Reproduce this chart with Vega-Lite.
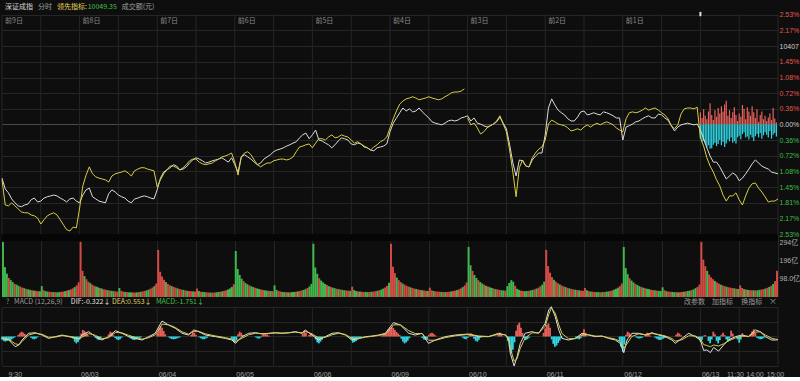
{
"$schema":"https://vega.github.io/schema/vega-lite/v6.json",
"background":"#0e0e0e",
"padding":0,
"spacing":0,
"bounds":"flush",
"config":{"view":{"stroke":null},"axis":{"domain":false,"ticks":false,"labelFont":"Liberation Sans, Noto Sans CJK SC","labelFontSize":7,"labelColor":"#a8a8a8","gridColor":"#262626","labelOverlap":false,"tickCount":100},"text":{"font":"Noto Sans CJK SC, Liberation Sans","fontSize":7,"baseline":"middle","align":"left"}},
"resolve":{"scale":{"x":"independent","y":"independent"}},
"datasets":{
"g":[{"t":0},{"t":12},{"t":24},{"t":36},{"t":48},{"t":60},{"t":72},{"t":84},{"t":96},{"t":108},{"t":120},{"t":132},{"t":144},{"t":156},{"t":168},{"t":180},{"t":192},{"t":204},{"t":216},{"t":228},{"t":240}],
"days":[{"t":0,"lab":"前9日"},{"t":24,"lab":"前8日"},{"t":48,"lab":"前7日"},{"t":72,"lab":"前6日"},{"t":96,"lab":"前5日"},{"t":120,"lab":"前4日"},{"t":144,"lab":"前3日"},{"t":168,"lab":"前2日"},{"t":192,"lab":"前1日"}],
"p":[
{"t":0,"w":-1.24,"yl":-1.28,"s":0},{"t":1,"w":-1.49,"yl":-1.86,"s":0},{"t":2,"w":-1.58,"yl":-1.88,"s":0},{"t":3,"w":-1.72,"yl":-1.81,"s":0},{"t":4,"w":-1.81,"yl":-1.88,"s":0},{"t":5,"w":-1.88,"yl":-1.95,"s":0},{"t":6,"w":-1.90,"yl":-2.02,"s":0},{"t":7,"w":-1.86,"yl":-2.04,"s":0},{"t":8,"w":-1.84,"yl":-2.04,"s":0},{"t":9,"w":-1.74,"yl":-2.09,"s":0},{"t":10,"w":-1.70,"yl":-2.11,"s":0},{"t":11,"w":-1.79,"yl":-2.16,"s":0},{"t":12,"w":-1.77,"yl":-2.30,"s":0},{"t":13,"w":-1.70,"yl":-2.20,"s":0},{"t":14,"w":-1.67,"yl":-2.11,"s":0},{"t":15,"w":-1.65,"yl":-2.07,"s":0},{"t":16,"w":-1.63,"yl":-2.04,"s":0},{"t":17,"w":-1.65,"yl":-2.09,"s":0},{"t":18,"w":-1.70,"yl":-2.20,"s":0},{"t":19,"w":-1.74,"yl":-2.32,"s":0},{"t":20,"w":-1.79,"yl":-2.43,"s":0},{"t":21,"w":-1.72,"yl":-2.46,"s":0},{"t":22,"w":-1.70,"yl":-2.37,"s":0},{"t":23,"w":-1.77,"yl":-2.39,"s":0},
{"t":24,"w":-1.81,"yl":-1.93,"s":0},{"t":25,"w":-1.63,"yl":-1.42,"s":0},{"t":26,"w":-1.51,"yl":-1.17,"s":0},{"t":27,"w":-1.47,"yl":-0.98,"s":0},{"t":28,"w":-1.67,"yl":-1.14,"s":0},{"t":29,"w":-1.72,"yl":-1.21,"s":0},{"t":30,"w":-1.77,"yl":-1.24,"s":0},{"t":31,"w":-1.79,"yl":-1.26,"s":0},{"t":32,"w":-1.81,"yl":-1.28,"s":0},{"t":33,"w":-1.60,"yl":-1.33,"s":0},{"t":34,"w":-1.51,"yl":-1.19,"s":0},{"t":35,"w":-1.56,"yl":-1.14,"s":0},{"t":36,"w":-1.63,"yl":-1.12,"s":0},{"t":37,"w":-1.67,"yl":-1.10,"s":0},{"t":38,"w":-1.70,"yl":-1.07,"s":0},{"t":39,"w":-1.77,"yl":-1.12,"s":0},{"t":40,"w":-1.81,"yl":-1.19,"s":0},{"t":41,"w":-1.72,"yl":-1.07,"s":0},{"t":42,"w":-1.70,"yl":-1.03,"s":0},{"t":43,"w":-1.67,"yl":-1.00,"s":0},{"t":44,"w":-1.65,"yl":-1.00,"s":0},{"t":45,"w":-1.67,"yl":-1.03,"s":0},{"t":46,"w":-1.70,"yl":-1.05,"s":0},{"t":47,"w":-1.72,"yl":-1.07,"s":0},
{"t":48,"w":-1.51,"yl":-1.44,"s":0},{"t":49,"w":-1.24,"yl":-1.28,"s":0},{"t":50,"w":-1.10,"yl":-1.14,"s":0},{"t":51,"w":-1.05,"yl":-1.05,"s":0},{"t":52,"w":-1.00,"yl":-0.96,"s":0},{"t":53,"w":-0.93,"yl":-0.96,"s":0},{"t":54,"w":-0.96,"yl":-1.00,"s":0},{"t":55,"w":-1.05,"yl":-1.05,"s":0},{"t":56,"w":-1.03,"yl":-1.00,"s":0},{"t":57,"w":-0.98,"yl":-0.93,"s":0},{"t":58,"w":-0.89,"yl":-0.84,"s":0},{"t":59,"w":-0.82,"yl":-0.80,"s":0},{"t":60,"w":-0.77,"yl":-0.80,"s":0},{"t":61,"w":-0.80,"yl":-0.87,"s":0},{"t":62,"w":-0.84,"yl":-0.91,"s":0},{"t":63,"w":-0.89,"yl":-0.93,"s":0},{"t":64,"w":-0.87,"yl":-0.91,"s":0},{"t":65,"w":-0.84,"yl":-0.89,"s":0},{"t":66,"w":-0.82,"yl":-0.84,"s":0},{"t":67,"w":-0.80,"yl":-0.80,"s":0},{"t":68,"w":-0.77,"yl":-0.75,"s":0},{"t":69,"w":-0.82,"yl":-0.73,"s":0},{"t":70,"w":-0.87,"yl":-0.70,"s":0},{"t":71,"w":-0.77,"yl":-0.66,"s":0},
{"t":72,"w":-0.93,"yl":-0.87,"s":0},{"t":73,"w":-1.10,"yl":-1.17,"s":0},{"t":74,"w":-0.75,"yl":-0.75,"s":0},{"t":75,"w":-0.70,"yl":-0.66,"s":0},{"t":76,"w":-0.75,"yl":-0.63,"s":0},{"t":77,"w":-0.80,"yl":-0.70,"s":0},{"t":78,"w":-0.87,"yl":-0.82,"s":0},{"t":79,"w":-0.93,"yl":-0.93,"s":0},{"t":80,"w":-0.89,"yl":-0.98,"s":0},{"t":81,"w":-0.80,"yl":-0.93,"s":0},{"t":82,"w":-0.75,"yl":-0.89,"s":0},{"t":83,"w":-0.70,"yl":-0.89,"s":0},{"t":84,"w":-0.63,"yl":-0.84,"s":0},{"t":85,"w":-0.59,"yl":-0.82,"s":0},{"t":86,"w":-0.57,"yl":-0.80,"s":0},{"t":87,"w":-0.54,"yl":-0.80,"s":0},{"t":88,"w":-0.50,"yl":-0.82,"s":0},{"t":89,"w":-0.47,"yl":-0.80,"s":0},{"t":90,"w":-0.43,"yl":-0.75,"s":0},{"t":91,"w":-0.40,"yl":-0.63,"s":0},{"t":92,"w":-0.31,"yl":-0.52,"s":0},{"t":93,"w":-0.24,"yl":-0.50,"s":0},{"t":94,"w":-0.20,"yl":-0.47,"s":0},{"t":95,"w":-0.33,"yl":-0.45,"s":0},
{"t":96,"w":-0.24,"yl":-0.54,"s":0},{"t":97,"w":-0.13,"yl":-0.43,"s":0},{"t":98,"w":-0.36,"yl":-0.33,"s":0},{"t":99,"w":-0.38,"yl":-0.33,"s":0},{"t":100,"w":-0.43,"yl":-0.36,"s":0},{"t":101,"w":-0.47,"yl":-0.29,"s":0},{"t":102,"w":-0.54,"yl":-0.24,"s":0},{"t":103,"w":-0.47,"yl":-0.31,"s":0},{"t":104,"w":-0.38,"yl":-0.29,"s":0},{"t":105,"w":-0.31,"yl":-0.24,"s":0},{"t":106,"w":-0.33,"yl":-0.27,"s":0},{"t":107,"w":-0.36,"yl":-0.29,"s":0},{"t":108,"w":-0.45,"yl":-0.36,"s":0},{"t":109,"w":-0.47,"yl":-0.43,"s":0},{"t":110,"w":-0.43,"yl":-0.40,"s":0},{"t":111,"w":-0.45,"yl":-0.45,"s":0},{"t":112,"w":-0.52,"yl":-0.50,"s":0},{"t":113,"w":-0.54,"yl":-0.54,"s":0},{"t":114,"w":-0.59,"yl":-0.59,"s":0},{"t":115,"w":-0.61,"yl":-0.52,"s":0},{"t":116,"w":-0.54,"yl":-0.47,"s":0},{"t":117,"w":-0.52,"yl":-0.40,"s":0},{"t":118,"w":-0.50,"yl":-0.36,"s":0},{"t":119,"w":-0.45,"yl":-0.29,"s":0},
{"t":120,"w":-0.17,"yl":-0.08,"s":0},{"t":121,"w":0.03,"yl":0.13,"s":0},{"t":122,"w":0.15,"yl":0.31,"s":0},{"t":123,"w":0.27,"yl":0.47,"s":0},{"t":124,"w":0.38,"yl":0.54,"s":0},{"t":125,"w":0.31,"yl":0.59,"s":0},{"t":126,"w":0.36,"yl":0.61,"s":0},{"t":127,"w":0.29,"yl":0.64,"s":0},{"t":128,"w":0.31,"yl":0.61,"s":0},{"t":129,"w":0.38,"yl":0.57,"s":0},{"t":130,"w":0.29,"yl":0.59,"s":0},{"t":131,"w":0.22,"yl":0.61,"s":0},{"t":132,"w":0.15,"yl":0.64,"s":0},{"t":133,"w":0.06,"yl":0.61,"s":0},{"t":134,"w":0.03,"yl":0.59,"s":0},{"t":135,"w":0.01,"yl":0.57,"s":0},{"t":136,"w":-0.01,"yl":0.59,"s":0},{"t":137,"w":0.03,"yl":0.64,"s":0},{"t":138,"w":0.08,"yl":0.68,"s":0},{"t":139,"w":0.10,"yl":0.73,"s":0},{"t":140,"w":0.08,"yl":0.75,"s":0},{"t":141,"w":0.10,"yl":0.75,"s":0},{"t":142,"w":0.15,"yl":0.77,"s":0},{"t":143,"w":0.17,"yl":0.82,"s":0},
{"t":144,"w":0.20,"yl":0.15,"s":1},{"t":145,"w":0.08,"yl":-0.01,"s":1},{"t":146,"w":0.15,"yl":0.03,"s":1},{"t":147,"w":0.03,"yl":-0.08,"s":1},{"t":148,"w":0.01,"yl":-0.22,"s":1},{"t":149,"w":-0.03,"yl":-0.17,"s":1},{"t":150,"w":-0.06,"yl":-0.08,"s":1},{"t":151,"w":-0.03,"yl":-0.03,"s":1},{"t":152,"w":0.01,"yl":0.01,"s":1},{"t":153,"w":0.06,"yl":0.08,"s":1},{"t":154,"w":0.17,"yl":0.20,"s":1},{"t":155,"w":0.03,"yl":0.01,"s":1},{"t":156,"w":-0.10,"yl":-0.17,"s":1},{"t":157,"w":-0.47,"yl":-0.59,"s":1},{"t":158,"w":-0.89,"yl":-1.10,"s":1},{"t":159,"w":-1.19,"yl":-1.67,"s":1},{"t":160,"w":-0.82,"yl":-1.00,"s":1},{"t":161,"w":-0.84,"yl":-0.82,"s":1},{"t":162,"w":-0.96,"yl":-0.96,"s":1},{"t":163,"w":-0.98,"yl":-0.98,"s":1},{"t":164,"w":-0.82,"yl":-0.77,"s":1},{"t":165,"w":-0.73,"yl":-0.66,"s":1},{"t":166,"w":-0.66,"yl":-0.57,"s":1},{"t":167,"w":-0.66,"yl":-0.52,"s":1},
{"t":168,"w":-0.24,"yl":-0.36,"s":1},{"t":169,"w":0.38,"yl":0.01,"s":1},{"t":170,"w":0.59,"yl":0.10,"s":1},{"t":171,"w":0.45,"yl":0.06,"s":1},{"t":172,"w":0.33,"yl":0.01,"s":1},{"t":173,"w":0.27,"yl":-0.01,"s":1},{"t":174,"w":0.22,"yl":-0.03,"s":1},{"t":175,"w":0.13,"yl":-0.08,"s":1},{"t":176,"w":0.08,"yl":-0.15,"s":1},{"t":177,"w":0.08,"yl":-0.13,"s":1},{"t":178,"w":0.17,"yl":-0.10,"s":1},{"t":179,"w":0.29,"yl":-0.13,"s":1},{"t":180,"w":0.31,"yl":-0.06,"s":1},{"t":181,"w":0.22,"yl":-0.01,"s":1},{"t":182,"w":0.24,"yl":-0.06,"s":1},{"t":183,"w":0.27,"yl":-0.01,"s":1},{"t":184,"w":0.24,"yl":0.03,"s":1},{"t":185,"w":0.22,"yl":-0.01,"s":1},{"t":186,"w":0.29,"yl":0.03,"s":1},{"t":187,"w":0.27,"yl":0.06,"s":1},{"t":188,"w":0.24,"yl":0.03,"s":1},{"t":189,"w":0.20,"yl":-0.01,"s":1},{"t":190,"w":0.15,"yl":-0.08,"s":1},{"t":191,"w":0.15,"yl":-0.13,"s":1},
{"t":192,"w":-0.36,"yl":-0.17,"s":1},{"t":193,"w":-0.06,"yl":0.13,"s":1},{"t":194,"w":-0.03,"yl":0.27,"s":1},{"t":195,"w":0.01,"yl":0.29,"s":1},{"t":196,"w":0.06,"yl":0.27,"s":1},{"t":197,"w":0.08,"yl":0.29,"s":1},{"t":198,"w":0.13,"yl":0.33,"s":1},{"t":199,"w":0.17,"yl":0.38,"s":1},{"t":200,"w":0.20,"yl":0.33,"s":1},{"t":201,"w":0.15,"yl":0.36,"s":1},{"t":202,"w":0.15,"yl":0.38,"s":1},{"t":203,"w":0.24,"yl":0.33,"s":1},{"t":204,"w":0.22,"yl":0.27,"s":1},{"t":205,"w":0.15,"yl":0.22,"s":1},{"t":206,"w":0.10,"yl":0.13,"s":1},{"t":207,"w":-0.03,"yl":-0.03,"s":1},{"t":208,"w":-0.15,"yl":-0.10,"s":1},{"t":209,"w":-0.06,"yl":-0.01,"s":1},{"t":210,"w":-0.01,"yl":0.24,"s":1},{"t":211,"w":0.01,"yl":0.36,"s":1},{"t":212,"w":0.03,"yl":0.38,"s":1},{"t":213,"w":0.01,"yl":0.38,"s":1},{"t":214,"w":-0.01,"yl":0.36,"s":1},{"t":215,"w":0.01,"yl":0.40,"s":1},
{"t":216,"w":-0.13,"yl":-0.31,"s":1},{"t":217,"w":-0.33,"yl":-0.50,"s":1},{"t":218,"w":-0.54,"yl":-0.77,"s":1},{"t":219,"w":-0.73,"yl":-0.96,"s":1},{"t":220,"w":-0.87,"yl":-1.10,"s":1},{"t":221,"w":-0.87,"yl":-1.28,"s":1},{"t":222,"w":-0.98,"yl":-1.42,"s":1},{"t":223,"w":-1.12,"yl":-1.63,"s":1},{"t":224,"w":-1.26,"yl":-1.77,"s":1},{"t":225,"w":-1.19,"yl":-1.65,"s":1},{"t":226,"w":-1.12,"yl":-1.65,"s":1},{"t":227,"w":-1.17,"yl":-1.58,"s":1},{"t":228,"w":-1.30,"yl":-1.74,"s":1},{"t":229,"w":-1.24,"yl":-1.86,"s":1},{"t":230,"w":-1.14,"yl":-1.65,"s":1},{"t":231,"w":-1.03,"yl":-1.47,"s":1},{"t":232,"w":-0.91,"yl":-1.37,"s":1},{"t":233,"w":-0.82,"yl":-1.35,"s":1},{"t":234,"w":-0.89,"yl":-1.47,"s":1},{"t":235,"w":-0.96,"yl":-1.56,"s":1},{"t":236,"w":-1.00,"yl":-1.67,"s":1},{"t":237,"w":-1.03,"yl":-1.79,"s":1},{"t":238,"w":-1.10,"yl":-1.77,"s":1},{"t":239,"w":-1.12,"yl":-1.77,"s":1},{"t":240,"w":-1.14,"yl":-1.72,"s":1}
],
"bs":[
{"t":216,"u":0.28,"d":-0.33},{"t":216.5,"u":0.15,"d":-0.40},{"t":217,"u":0.35,"d":-0.38},{"t":217.5,"u":0.20,"d":-0.44},{"t":218,"u":0.12,"d":-0.53},{"t":218.5,"u":0.30,"d":-0.48},{"t":219,"u":0.49,"d":-0.56},{"t":219.5,"u":0.22,"d":-0.55},{"t":220,"u":0.10,"d":-0.47},{"t":220.5,"u":0.33,"d":-0.42},{"t":221,"u":0.18,"d":-0.50},{"t":221.5,"u":0.38,"d":-0.45},{"t":222,"u":0.25,"d":-0.36},{"t":222.5,"u":0.42,"d":-0.48},{"t":223,"u":0.30,"d":-0.40},{"t":223.5,"u":0.46,"d":-0.52},{"t":224,"u":0.55,"d":-0.44},{"t":224.5,"u":0.20,"d":-0.35},{"t":225,"u":0.33,"d":-0.39},{"t":225.5,"u":0.15,"d":-0.30},{"t":226,"u":0.28,"d":-0.42},{"t":226.5,"u":0.40,"d":-0.38},{"t":227,"u":0.22,"d":-0.44},{"t":227.5,"u":0.08,"d":-0.30},{"t":228,"u":0.25,"d":-0.26},{"t":228.5,"u":0.18,"d":-0.34},{"t":229,"u":0.45,"d":-0.22},{"t":229.5,"u":0.36,"d":-0.18},{"t":230,"u":0.12,"d":-0.30},{"t":230.5,"u":0.40,"d":-0.28},{"t":231,"u":0.30,"d":-0.35},{"t":231.5,"u":0.20,"d":-0.24},{"t":232,"u":0.42,"d":-0.30},{"t":232.5,"u":0.28,"d":-0.38},{"t":233,"u":0.15,"d":-0.27},{"t":233.5,"u":0.35,"d":-0.22},{"t":234,"u":0.06,"d":-0.30},{"t":234.5,"u":0.22,"d":-0.20},{"t":235,"u":0.30,"d":-0.33},{"t":235.5,"u":0.12,"d":-0.25},{"t":236,"u":0.20,"d":-0.18},{"t":236.5,"u":0.08,"d":-0.24},{"t":237,"u":0.16,"d":-0.30},{"t":237.5,"u":0.25,"d":-0.15},{"t":238,"u":0.10,"d":-0.33},{"t":238.5,"u":0.38,"d":-0.24},{"t":239,"u":0.14,"d":-0.20},{"t":239.5,"u":0.05,"d":-0.28}
],
"vol":[
{"m":0,"v":294,"r":0},{"m":1,"v":160,"r":0},{"m":2,"v":125,"r":0},{"m":3,"v":102,"r":1},{"m":4,"v":90,"r":0},{"m":5,"v":80,"r":0},{"m":6,"v":70,"r":1},{"m":7,"v":66,"r":0},{"m":8,"v":60,"r":0},{"m":9,"v":55,"r":1},{"m":10,"v":50,"r":1},{"m":11,"v":47,"r":0},{"m":12,"v":43,"r":1},{"m":13,"v":41,"r":0},{"m":14,"v":38,"r":0},{"m":15,"v":36,"r":1},{"m":16,"v":34,"r":0},{"m":17,"v":33,"r":1},{"m":18,"v":31,"r":1},{"m":19,"v":31,"r":0},{"m":20,"v":58,"r":0},{"m":21,"v":36,"r":1},{"m":22,"v":31,"r":0},{"m":23,"v":29,"r":0},{"m":24,"v":28,"r":1},{"m":25,"v":27,"r":1},{"m":26,"v":26,"r":0},{"m":27,"v":26,"r":1},{"m":28,"v":25,"r":0},{"m":29,"v":26,"r":0},{"m":30,"v":28,"r":1},{"m":31,"v":29,"r":1},{"m":32,"v":31,"r":0},{"m":33,"v":34,"r":1},{"m":34,"v":37,"r":0},{"m":35,"v":41,"r":1},{"m":36,"v":46,"r":1},{"m":37,"v":53,"r":0},{"m":38,"v":62,"r":1},{"m":39,"v":78,"r":1},
{"m":40,"v":294,"r":1},{"m":41,"v":140,"r":1},{"m":42,"v":112,"r":0},{"m":43,"v":95,"r":1},{"m":44,"v":82,"r":1},{"m":45,"v":74,"r":0},{"m":46,"v":66,"r":1},{"m":47,"v":60,"r":1},{"m":48,"v":56,"r":0},{"m":49,"v":52,"r":0},{"m":50,"v":48,"r":1},{"m":51,"v":45,"r":0},{"m":52,"v":41,"r":1},{"m":53,"v":39,"r":1},{"m":54,"v":36,"r":0},{"m":55,"v":35,"r":1},{"m":56,"v":33,"r":0},{"m":57,"v":31,"r":0},{"m":58,"v":30,"r":1},{"m":59,"v":29,"r":1},{"m":60,"v":48,"r":0},{"m":61,"v":33,"r":1},{"m":62,"v":29,"r":1},{"m":63,"v":27,"r":0},{"m":64,"v":26,"r":1},{"m":65,"v":25,"r":0},{"m":66,"v":25,"r":0},{"m":67,"v":24,"r":1},{"m":68,"v":24,"r":1},{"m":69,"v":25,"r":0},{"m":70,"v":26,"r":1},{"m":71,"v":28,"r":0},{"m":72,"v":30,"r":1},{"m":73,"v":32,"r":1},{"m":74,"v":35,"r":0},{"m":75,"v":39,"r":0},{"m":76,"v":44,"r":1},{"m":77,"v":50,"r":1},{"m":78,"v":58,"r":0},{"m":79,"v":72,"r":1},
{"m":80,"v":252,"r":1},{"m":81,"v":135,"r":1},{"m":82,"v":110,"r":1},{"m":83,"v":92,"r":1},{"m":84,"v":80,"r":0},{"m":85,"v":70,"r":1},{"m":86,"v":63,"r":1},{"m":87,"v":58,"r":0},{"m":88,"v":54,"r":1},{"m":89,"v":50,"r":1},{"m":90,"v":46,"r":0},{"m":91,"v":43,"r":1},{"m":92,"v":40,"r":1},{"m":93,"v":38,"r":0},{"m":94,"v":35,"r":1},{"m":95,"v":33,"r":0},{"m":96,"v":32,"r":1},{"m":97,"v":31,"r":1},{"m":98,"v":30,"r":0},{"m":99,"v":29,"r":1},{"m":100,"v":45,"r":1},{"m":101,"v":32,"r":0},{"m":102,"v":28,"r":1},{"m":103,"v":27,"r":0},{"m":104,"v":26,"r":0},{"m":105,"v":25,"r":1},{"m":106,"v":24,"r":1},{"m":107,"v":24,"r":0},{"m":108,"v":23,"r":1},{"m":109,"v":24,"r":1},{"m":110,"v":25,"r":0},{"m":111,"v":27,"r":0},{"m":112,"v":28,"r":1},{"m":113,"v":30,"r":0},{"m":114,"v":33,"r":1},{"m":115,"v":36,"r":1},{"m":116,"v":40,"r":0},{"m":117,"v":46,"r":0},{"m":118,"v":54,"r":0},{"m":119,"v":68,"r":1},
{"m":120,"v":246,"r":0},{"m":121,"v":150,"r":0},{"m":122,"v":118,"r":0},{"m":123,"v":98,"r":0},{"m":124,"v":85,"r":1},{"m":125,"v":75,"r":0},{"m":126,"v":68,"r":0},{"m":127,"v":62,"r":1},{"m":128,"v":57,"r":0},{"m":129,"v":53,"r":0},{"m":130,"v":49,"r":1},{"m":131,"v":46,"r":0},{"m":132,"v":43,"r":0},{"m":133,"v":40,"r":1},{"m":134,"v":38,"r":1},{"m":135,"v":36,"r":0},{"m":136,"v":34,"r":0},{"m":137,"v":33,"r":1},{"m":138,"v":32,"r":0},{"m":139,"v":31,"r":1},{"m":140,"v":62,"r":0},{"m":141,"v":38,"r":0},{"m":142,"v":32,"r":1},{"m":143,"v":29,"r":1},{"m":144,"v":27,"r":0},{"m":145,"v":26,"r":0},{"m":146,"v":26,"r":1},{"m":147,"v":25,"r":0},{"m":148,"v":25,"r":1},{"m":149,"v":26,"r":0},{"m":150,"v":27,"r":0},{"m":151,"v":28,"r":1},{"m":152,"v":30,"r":0},{"m":153,"v":32,"r":1},{"m":154,"v":35,"r":1},{"m":155,"v":38,"r":0},{"m":156,"v":42,"r":0},{"m":157,"v":48,"r":1},{"m":158,"v":56,"r":0},{"m":159,"v":70,"r":0},
{"m":160,"v":285,"r":0},{"m":161,"v":158,"r":0},{"m":162,"v":124,"r":0},{"m":163,"v":100,"r":1},{"m":164,"v":88,"r":0},{"m":165,"v":78,"r":0},{"m":166,"v":70,"r":0},{"m":167,"v":64,"r":1},{"m":168,"v":58,"r":0},{"m":169,"v":54,"r":1},{"m":170,"v":50,"r":0},{"m":171,"v":47,"r":0},{"m":172,"v":44,"r":1},{"m":173,"v":42,"r":0},{"m":174,"v":40,"r":1},{"m":175,"v":38,"r":0},{"m":176,"v":36,"r":0},{"m":177,"v":35,"r":1},{"m":178,"v":34,"r":1},{"m":179,"v":33,"r":0},{"m":180,"v":55,"r":1},{"m":181,"v":37,"r":0},{"m":182,"v":32,"r":0},{"m":183,"v":30,"r":1},{"m":184,"v":29,"r":0},{"m":185,"v":28,"r":1},{"m":186,"v":27,"r":1},{"m":187,"v":27,"r":0},{"m":188,"v":26,"r":0},{"m":189,"v":27,"r":1},{"m":190,"v":28,"r":0},{"m":191,"v":29,"r":1},{"m":192,"v":31,"r":1},{"m":193,"v":33,"r":0},{"m":194,"v":36,"r":1},{"m":195,"v":40,"r":0},{"m":196,"v":45,"r":0},{"m":197,"v":51,"r":1},{"m":198,"v":60,"r":1},{"m":199,"v":76,"r":0},
{"m":200,"v":285,"r":1},{"m":201,"v":162,"r":1},{"m":202,"v":128,"r":1},{"m":203,"v":104,"r":0},{"m":204,"v":90,"r":1},{"m":205,"v":80,"r":1},{"m":206,"v":72,"r":0},{"m":207,"v":66,"r":1},{"m":208,"v":60,"r":1},{"m":209,"v":56,"r":1},{"m":210,"v":52,"r":0},{"m":211,"v":48,"r":1},{"m":212,"v":45,"r":1},{"m":213,"v":43,"r":0},{"m":214,"v":40,"r":1},{"m":215,"v":38,"r":1},{"m":216,"v":36,"r":0},{"m":217,"v":35,"r":1},{"m":218,"v":33,"r":1},{"m":219,"v":32,"r":0},{"m":220,"v":50,"r":1},{"m":221,"v":36,"r":1},{"m":222,"v":32,"r":0},{"m":223,"v":30,"r":1},{"m":224,"v":29,"r":1},{"m":225,"v":28,"r":1},{"m":226,"v":27,"r":0},{"m":227,"v":27,"r":1},{"m":228,"v":26,"r":0},{"m":229,"v":27,"r":1},{"m":230,"v":28,"r":1},{"m":231,"v":30,"r":0},{"m":232,"v":32,"r":1},{"m":233,"v":34,"r":1},{"m":234,"v":37,"r":0},{"m":235,"v":41,"r":1},{"m":236,"v":46,"r":1},{"m":237,"v":53,"r":0},{"m":238,"v":62,"r":1},{"m":239,"v":78,"r":1},
{"m":240,"v":268,"r":0},{"m":241,"v":170,"r":0},{"m":242,"v":140,"r":1},{"m":243,"v":118,"r":0},{"m":244,"v":102,"r":0},{"m":245,"v":90,"r":1},{"m":246,"v":80,"r":0},{"m":247,"v":72,"r":0},{"m":248,"v":66,"r":1},{"m":249,"v":60,"r":0},{"m":250,"v":56,"r":1},{"m":251,"v":52,"r":0},{"m":252,"v":48,"r":0},{"m":253,"v":45,"r":1},{"m":254,"v":42,"r":0},{"m":255,"v":40,"r":1},{"m":256,"v":38,"r":1},{"m":257,"v":36,"r":0},{"m":258,"v":35,"r":0},{"m":259,"v":34,"r":1},{"m":260,"v":58,"r":0},{"m":261,"v":75,"r":0},{"m":262,"v":90,"r":0},{"m":263,"v":82,"r":0},{"m":264,"v":60,"r":1},{"m":265,"v":44,"r":0},{"m":266,"v":38,"r":0},{"m":267,"v":34,"r":1},{"m":268,"v":32,"r":1},{"m":269,"v":31,"r":0},{"m":270,"v":32,"r":0},{"m":271,"v":33,"r":1},{"m":272,"v":35,"r":0},{"m":273,"v":38,"r":0},{"m":274,"v":41,"r":1},{"m":275,"v":45,"r":0},{"m":276,"v":50,"r":1},{"m":277,"v":57,"r":1},{"m":278,"v":66,"r":0},{"m":279,"v":82,"r":0},
{"m":280,"v":252,"r":1},{"m":281,"v":165,"r":1},{"m":282,"v":130,"r":1},{"m":283,"v":106,"r":1},{"m":284,"v":92,"r":0},{"m":285,"v":82,"r":1},{"m":286,"v":74,"r":1},{"m":287,"v":67,"r":0},{"m":288,"v":61,"r":1},{"m":289,"v":57,"r":1},{"m":290,"v":53,"r":0},{"m":291,"v":49,"r":1},{"m":292,"v":46,"r":0},{"m":293,"v":43,"r":1},{"m":294,"v":41,"r":1},{"m":295,"v":39,"r":0},{"m":296,"v":37,"r":1},{"m":297,"v":36,"r":0},{"m":298,"v":34,"r":1},{"m":299,"v":33,"r":1},{"m":300,"v":48,"r":1},{"m":301,"v":36,"r":0},{"m":302,"v":31,"r":1},{"m":303,"v":29,"r":0},{"m":304,"v":28,"r":1},{"m":305,"v":27,"r":1},{"m":306,"v":26,"r":0},{"m":307,"v":26,"r":0},{"m":308,"v":25,"r":1},{"m":309,"v":26,"r":0},{"m":310,"v":27,"r":1},{"m":311,"v":28,"r":0},{"m":312,"v":30,"r":0},{"m":313,"v":32,"r":1},{"m":314,"v":35,"r":1},{"m":315,"v":39,"r":0},{"m":316,"v":44,"r":0},{"m":317,"v":50,"r":0},{"m":318,"v":58,"r":1},{"m":319,"v":72,"r":1},
{"m":320,"v":268,"r":0},{"m":321,"v":155,"r":0},{"m":322,"v":122,"r":0},{"m":323,"v":100,"r":1},{"m":324,"v":88,"r":0},{"m":325,"v":78,"r":0},{"m":326,"v":70,"r":1},{"m":327,"v":64,"r":0},{"m":328,"v":58,"r":0},{"m":329,"v":54,"r":1},{"m":330,"v":50,"r":0},{"m":331,"v":47,"r":1},{"m":332,"v":44,"r":0},{"m":333,"v":42,"r":0},{"m":334,"v":39,"r":1},{"m":335,"v":37,"r":1},{"m":336,"v":36,"r":0},{"m":337,"v":34,"r":1},{"m":338,"v":33,"r":0},{"m":339,"v":32,"r":0},{"m":340,"v":52,"r":0},{"m":341,"v":36,"r":1},{"m":342,"v":31,"r":0},{"m":343,"v":29,"r":1},{"m":344,"v":28,"r":1},{"m":345,"v":27,"r":0},{"m":346,"v":26,"r":0},{"m":347,"v":26,"r":1},{"m":348,"v":25,"r":0},{"m":349,"v":26,"r":1},{"m":350,"v":27,"r":1},{"m":351,"v":28,"r":0},{"m":352,"v":30,"r":1},{"m":353,"v":32,"r":0},{"m":354,"v":34,"r":0},{"m":355,"v":37,"r":1},{"m":356,"v":41,"r":0},{"m":357,"v":47,"r":0},{"m":358,"v":54,"r":1},{"m":359,"v":66,"r":1},
{"m":360,"v":294,"r":1},{"m":361,"v":200,"r":1},{"m":362,"v":165,"r":1},{"m":363,"v":140,"r":0},{"m":364,"v":120,"r":1},{"m":365,"v":105,"r":1},{"m":366,"v":95,"r":1},{"m":367,"v":86,"r":0},{"m":368,"v":78,"r":1},{"m":369,"v":72,"r":1},{"m":370,"v":66,"r":0},{"m":371,"v":62,"r":1},{"m":372,"v":58,"r":1},{"m":373,"v":55,"r":0},{"m":374,"v":52,"r":1},{"m":375,"v":50,"r":1},{"m":376,"v":48,"r":1},{"m":377,"v":46,"r":0},{"m":378,"v":44,"r":1},{"m":379,"v":43,"r":0},{"m":380,"v":62,"r":1},{"m":381,"v":48,"r":1},{"m":382,"v":42,"r":0},{"m":383,"v":40,"r":1},{"m":384,"v":38,"r":0},{"m":385,"v":37,"r":1},{"m":386,"v":36,"r":1},{"m":387,"v":36,"r":0},{"m":388,"v":35,"r":1},{"m":389,"v":36,"r":0},{"m":390,"v":38,"r":0},{"m":391,"v":40,"r":1},{"m":392,"v":42,"r":1},{"m":393,"v":45,"r":0},{"m":394,"v":49,"r":1},{"m":395,"v":54,"r":0},{"m":396,"v":60,"r":1},{"m":397,"v":70,"r":0},{"m":398,"v":85,"r":1},{"m":399,"v":140,"r":1}
],
"md":[
{"t":0,"a":-0.13,"b":-0.10},{"t":2.1,"a":-0.24,"b":-0.18},{"t":4.1,"a":-0.70,"b":-0.50},{"t":5.2,"a":-0.58,"b":-0.55},{"t":6.2,"a":-0.24,"b":-0.35},{"t":8.2,"a":0.22,"b":0.10},{"t":10.3,"a":0.26,"b":0.22},{"t":12.4,"a":0.10,"b":0.15},{"t":14.4,"a":-0.13,"b":-0.05},{"t":16.5,"a":-0.01,"b":-0.04},{"t":18.6,"a":0.10,"b":0.06},{"t":20.6,"a":-0.01,"b":0.02},{"t":22.2,"a":-0.08,"b":-0.05},{"t":23.9,"a":-0.19,"b":-0.14},{"t":24.7,"a":0.10,"b":-0.05},{"t":26.8,"a":0.33,"b":0.20},{"t":28.9,"a":-0.01,"b":0.08},{"t":30.9,"a":-0.24,"b":-0.15},{"t":33.0,"a":-0.01,"b":-0.08},{"t":35.1,"a":0.40,"b":0.28},{"t":37.1,"a":0.22,"b":0.25},{"t":39.2,"a":-0.01,"b":0.08},{"t":41.2,"a":-0.13,"b":-0.06},{"t":43.3,"a":-0.24,"b":-0.18},{"t":45.4,"a":-0.01,"b":-0.08},{"t":47.4,"a":0.22,"b":0.12},{"t":48.5,"a":0.67,"b":0.45},{"t":49.5,"a":1.06,"b":0.85},{"t":51.5,"a":0.79,"b":0.80},{"t":53.6,"a":0.56,"b":0.62},{"t":55.7,"a":0.22,"b":0.32},{"t":57.7,"a":0.10,"b":0.16},{"t":59.3,"a":0.45,"b":0.35},{"t":60.8,"a":0.33,"b":0.36},{"t":62.9,"a":0.10,"b":0.18},{"t":66.0,"a":-0.01,"b":0.04},{"t":69.1,"a":-0.13,"b":-0.08},{"t":71.1,"a":-0.24,"b":-0.18},{"t":72.2,"a":-0.47,"b":-0.35},{"t":74.2,"a":-0.01,"b":-0.12},{"t":76.3,"a":0.22,"b":0.12},{"t":78.4,"a":0.26,"b":0.22},{"t":80.4,"a":0.17,"b":0.20},{"t":82.5,"a":0.22,"b":0.21},{"t":84.5,"a":0.26,"b":0.24},{"t":86.6,"a":0.22,"b":0.23},{"t":88.7,"a":0.26,"b":0.25},{"t":90.7,"a":0.33,"b":0.30},{"t":92.8,"a":0.22,"b":0.25},{"t":93.8,"a":0.45,"b":0.35},{"t":95.9,"a":0.10,"b":0.18},{"t":97.9,"a":-0.24,"b":-0.10},{"t":100.0,"a":-0.01,"b":-0.06},{"t":102.1,"a":0.22,"b":0.12},{"t":104.1,"a":0.26,"b":0.22},{"t":106.2,"a":0.10,"b":0.14},{"t":108.2,"a":-0.24,"b":-0.12},{"t":110.3,"a":-0.13,"b":-0.14},{"t":112.4,"a":-0.01,"b":-0.05},{"t":114.4,"a":0.03,"b":0.01},{"t":116.5,"a":0.10,"b":0.07},{"t":118.6,"a":0.22,"b":0.17},{"t":120.1,"a":0.67,"b":0.50},{"t":121.1,"a":0.95,"b":0.80},{"t":123.2,"a":0.79,"b":0.80},{"t":125.8,"a":0.22,"b":0.40},{"t":127.8,"a":0.10,"b":0.20},{"t":129.9,"a":0.22,"b":0.20},{"t":131.9,"a":-0.47,"b":-0.25},{"t":134.0,"a":-0.24,"b":-0.26},{"t":137.1,"a":-0.01,"b":-0.08},{"t":140.2,"a":0.10,"b":0.05},{"t":144.3,"a":0.17,"b":0.14},{"t":147.4,"a":-0.01,"b":0.04},{"t":150.5,"a":-0.01,"b":0.00},{"t":153.6,"a":0.22,"b":0.15},{"t":155.7,"a":0.10,"b":0.12},{"t":156.7,"a":-0.24,"b":-0.10},{"t":157.2,"a":-1.15,"b":-0.80},{"t":158.4,"a":-2.02,"b":-1.70},{"t":159.3,"a":-1.38,"b":-1.50},{"t":160.3,"a":-0.47,"b":-0.80},{"t":161.8,"a":0.22,"b":-0.10},{"t":163.9,"a":0.33,"b":0.25},{"t":166.0,"a":0.22,"b":0.25},{"t":168.0,"a":0.90,"b":0.70},{"t":169.1,"a":1.82,"b":1.50},{"t":169.9,"a":2.04,"b":1.95},{"t":171.1,"a":1.36,"b":1.60},{"t":172.2,"a":0.45,"b":0.80},{"t":173.2,"a":-0.13,"b":0.20},{"t":175.2,"a":-0.24,"b":-0.15},{"t":177.3,"a":-0.13,"b":-0.15},{"t":179.4,"a":0.22,"b":0.10},{"t":181.4,"a":0.10,"b":0.12},{"t":183.5,"a":-0.01,"b":0.03},{"t":185.6,"a":0.03,"b":0.02},{"t":187.6,"a":-0.13,"b":-0.08},{"t":189.7,"a":-0.24,"b":-0.18},{"t":191.2,"a":-0.47,"b":-0.35},{"t":192.3,"a":-1.11,"b":-0.80},{"t":193.3,"a":-0.24,"b":-0.50},{"t":194.8,"a":0.22,"b":0.00},{"t":196.9,"a":0.22,"b":0.18},{"t":199.0,"a":0.10,"b":0.13},{"t":201.0,"a":0.26,"b":0.20},{"t":203.1,"a":0.10,"b":0.14},{"t":205.1,"a":-0.01,"b":0.04},{"t":207.2,"a":-0.24,"b":-0.14},{"t":208.2,"a":-0.47,"b":-0.32},{"t":210.3,"a":-0.13,"b":-0.22},{"t":212.4,"a":0.22,"b":0.05},{"t":214.4,"a":-0.01,"b":0.04},{"t":216.0,"a":-0.24,"b":-0.15},{"t":217.0,"a":-0.95,"b":-0.55},{"t":218.0,"a":-0.92,"b":-0.62},{"t":219.1,"a":-1.10,"b":-0.70},{"t":220.1,"a":-0.75,"b":-0.58},{"t":221.6,"a":-1.00,"b":-0.65},{"t":223.2,"a":-0.58,"b":-0.50},{"t":224.7,"a":-0.24,"b":-0.30},{"t":226.8,"a":-0.01,"b":-0.10},{"t":228.9,"a":0.10,"b":0.03},{"t":230.9,"a":-0.01,"b":0.01},{"t":233.0,"a":0.45,"b":0.30},{"t":234.5,"a":0.33,"b":0.32},{"t":236.1,"a":-0.01,"b":0.10},{"t":238.1,"a":-0.24,"b":-0.12},{"t":239.2,"a":-0.24,"b":-0.18},{"t":240,"a":-0.22,"b":-0.20}
],
"mh":[
{"t":0,"h":-0.2},{"t":0.5,"h":-0.3},{"t":1,"h":-0.35},{"t":1.5,"h":-0.3},{"t":2,"h":-0.25},{"t":2.5,"h":-0.3},{"t":3,"h":-0.2},{"t":3.5,"h":-0.12},{"t":4,"h":-0.05},
{"t":5,"h":0.1},{"t":5.5,"h":0.22},{"t":6,"h":0.33},{"t":6.5,"h":0.28},{"t":7,"h":0.18},{"t":7.5,"h":0.08},
{"t":9,"h":-0.08},{"t":9.5,"h":-0.16},{"t":10,"h":-0.19},{"t":10.5,"h":-0.14},{"t":11,"h":-0.06},
{"t":22,"h":-0.15},{"t":22.5,"h":-0.35},{"t":23,"h":-0.47},{"t":23.5,"h":-0.38},{"t":24,"h":-0.2},
{"t":24.5,"h":0.2},{"t":25,"h":0.45},{"t":25.5,"h":0.38},{"t":26,"h":0.25},{"t":26.5,"h":0.12},
{"t":29,"h":-0.1},{"t":29.5,"h":-0.2},{"t":30,"h":-0.24},{"t":30.5,"h":-0.15},
{"t":33,"h":0.15},{"t":33.5,"h":0.33},{"t":34,"h":0.25},{"t":34.5,"h":0.08},
{"t":35,"h":-0.1},{"t":35.5,"h":-0.2},{"t":36,"h":-0.24},{"t":36.5,"h":-0.18},{"t":37,"h":-0.08},
{"t":39.5,"h":-0.08},{"t":40,"h":-0.16},{"t":40.5,"h":-0.22},{"t":41,"h":-0.24},{"t":41.5,"h":-0.2},{"t":42,"h":-0.15},{"t":42.5,"h":-0.1},{"t":43,"h":-0.05},
{"t":48,"h":0.25},{"t":48.5,"h":0.55},{"t":49,"h":0.72},{"t":49.5,"h":0.6},{"t":50,"h":0.38},{"t":50.5,"h":0.15},
{"t":51.5,"h":-0.05},{"t":52,"h":-0.12},{"t":52.5,"h":-0.17},{"t":53,"h":-0.19},{"t":53.5,"h":-0.17},{"t":54,"h":-0.14},{"t":54.5,"h":-0.1},{"t":55,"h":-0.06},
{"t":58.5,"h":0.12},{"t":59,"h":0.33},{"t":59.5,"h":0.25},{"t":60,"h":0.1},
{"t":61,"h":-0.06},{"t":61.5,"h":-0.12},{"t":62,"h":-0.18},{"t":62.5,"h":-0.19},{"t":63,"h":-0.14},{"t":63.5,"h":-0.08},
{"t":71,"h":-0.15},{"t":71.5,"h":-0.3},{"t":72,"h":-0.42},{"t":72.5,"h":-0.25},
{"t":73,"h":0.15},{"t":73.5,"h":0.33},{"t":74,"h":0.25},{"t":74.5,"h":0.1},
{"t":78.5,"h":-0.06},{"t":79,"h":-0.12},{"t":79.5,"h":-0.13},{"t":80,"h":-0.07},
{"t":80.5,"h":0.08},{"t":81,"h":0.16},{"t":81.5,"h":0.22},{"t":82,"h":0.15},{"t":82.5,"h":0.06},
{"t":93,"h":0.2},{"t":93.5,"h":0.4},{"t":94,"h":0.25},
{"t":95,"h":0.12},{"t":95.5,"h":0.22},{"t":96,"h":0.1},
{"t":97,"h":-0.2},{"t":97.5,"h":-0.4},{"t":98,"h":-0.47},{"t":98.5,"h":-0.35},{"t":99,"h":-0.22},{"t":99.5,"h":-0.1},
{"t":108,"h":-0.2},{"t":108.5,"h":-0.42},{"t":109,"h":-0.38},{"t":109.5,"h":-0.3},{"t":110,"h":-0.22},{"t":110.5,"h":-0.14},{"t":111,"h":-0.06},
{"t":117.5,"h":0.06},{"t":118,"h":0.12},{"t":118.5,"h":0.2},{"t":119,"h":0.32},{"t":119.5,"h":0.48},{"t":120,"h":0.6},{"t":120.5,"h":0.67},{"t":121,"h":0.58},{"t":121.5,"h":0.45},{"t":122,"h":0.32},{"t":122.5,"h":0.2},{"t":123,"h":0.1},
{"t":123.5,"h":-0.15},{"t":124,"h":-0.35},{"t":124.5,"h":-0.47},{"t":125,"h":-0.4},{"t":125.5,"h":-0.28},{"t":126,"h":-0.12},
{"t":130,"h":-0.1},{"t":130.5,"h":-0.2},{"t":131,"h":-0.24},{"t":131.5,"h":-0.15},
{"t":132,"h":0.1},{"t":132.5,"h":0.22},{"t":133,"h":0.26},{"t":133.5,"h":0.18},{"t":134,"h":0.08},
{"t":142.5,"h":-0.08},{"t":143,"h":-0.16},{"t":143.5,"h":-0.19},{"t":144,"h":-0.1},
{"t":144.5,"h":0.12},{"t":145,"h":0.22},{"t":145.5,"h":0.14},
{"t":146,"h":-0.15},{"t":146.5,"h":-0.3},{"t":147,"h":-0.35},{"t":147.5,"h":-0.22},{"t":148,"h":-0.08},
{"t":153.5,"h":0.12},{"t":154,"h":0.26},{"t":154.5,"h":0.15},
{"t":156.5,"h":-0.3},{"t":157,"h":-0.7},{"t":157.5,"h":-1.15},{"t":158,"h":-0.9},{"t":158.5,"h":-0.4},
{"t":159,"h":0.4},{"t":159.5,"h":0.8},{"t":160,"h":0.95},{"t":160.5,"h":0.6},{"t":161,"h":0.25},
{"t":161.5,"h":-0.12},{"t":162,"h":-0.24},{"t":162.5,"h":-0.18},{"t":163,"h":-0.08},
{"t":167.5,"h":0.25},{"t":168,"h":0.55},{"t":168.5,"h":0.8},{"t":169,"h":0.9},{"t":169.5,"h":0.6},
{"t":170,"h":-0.2},{"t":170.5,"h":-0.5},{"t":171,"h":-0.7},{"t":171.5,"h":-0.62},{"t":172,"h":-0.45},{"t":172.5,"h":-0.28},{"t":173,"h":-0.12},
{"t":177.5,"h":-0.08},{"t":178,"h":-0.15},{"t":178.5,"h":-0.19},{"t":179,"h":-0.12},
{"t":179.5,"h":0.2},{"t":180,"h":0.49},{"t":180.5,"h":0.25},
{"t":191,"h":-0.3},{"t":191.5,"h":-0.7},{"t":192,"h":-1.04},{"t":192.5,"h":-0.55},
{"t":193,"h":0.12},{"t":193.5,"h":0.33},{"t":194,"h":0.25},{"t":194.5,"h":0.1},
{"t":196,"h":-0.05},{"t":196.5,"h":-0.1},{"t":197,"h":-0.13},{"t":197.5,"h":-0.12},{"t":198,"h":-0.08},
{"t":199,"h":0.1},{"t":199.5,"h":0.26},{"t":200,"h":0.18},{"t":200.5,"h":0.06},
{"t":202,"h":-0.08},{"t":202.5,"h":-0.15},{"t":203,"h":-0.22},{"t":203.5,"h":-0.24},{"t":204,"h":-0.2},{"t":204.5,"h":-0.15},{"t":205,"h":-0.1},{"t":205.5,"h":-0.05},
{"t":208.5,"h":0.12},{"t":209,"h":0.26},{"t":209.5,"h":0.2},{"t":210,"h":0.08},
{"t":215.5,"h":-0.15},{"t":216,"h":-0.35},{"t":216.5,"h":-0.22},
{"t":217,"h":0.06},{"t":217.5,"h":0.1},
{"t":218.5,"h":-0.3},{"t":219,"h":-0.47},{"t":219.5,"h":-0.2},
{"t":220,"h":0.33},{"t":220.5,"h":0.15},
{"t":221,"h":-0.3},{"t":221.5,"h":-0.47},{"t":222,"h":-0.25},
{"t":222.5,"h":0.12},{"t":223,"h":0.26},{"t":223.5,"h":0.1},
{"t":224,"h":-0.2},{"t":224.5,"h":-0.35},{"t":225,"h":-0.15},
{"t":225.5,"h":0.4},{"t":226,"h":0.2},
{"t":227.5,"h":-0.2},{"t":228,"h":-0.42},{"t":228.5,"h":-0.2},
{"t":229,"h":0.22},{"t":229.5,"h":0.1},
{"t":231.5,"h":0.15},{"t":232,"h":0.35},{"t":232.5,"h":0.49},{"t":233,"h":0.25},
{"t":233.5,"h":-0.08},{"t":234,"h":-0.15},{"t":234.5,"h":-0.19},{"t":235,"h":-0.17},{"t":235.5,"h":-0.12},{"t":236,"h":-0.06}
]
},
"vconcat":[
{"width":776,"height":234,"layer":[
 {"data":{"name":"g"},"mark":{"type":"rule","color":"#262626"},
  "encoding":{"x":{"field":"t","type":"quantitative","scale":{"domain":[0,240],"nice":false,"zero":false},"axis":null},
   "y":{"datum":-2.53,"type":"quantitative","title":null,"scale":{"domain":[-2.53,2.874],"nice":false,"zero":false},
    "axis":{"orient":"right","title":null,"tickCount":100,"values":[2.53,2.17,1.81,1.45,1.08,0.72,0.36,0,-0.36,-0.72,-1.08,-1.45,-1.81,-2.17,-2.53],"grid":true,"labelOverlap":false,"gridColor":{"condition":{"test":"datum.value === 0","value":"#4a4a4a"},"value":"#262626"},"labelPadding":1,"labelExpr":"datum.value === 1.81 ? '10407' : format(abs(datum.value), '.2f') + '%'","labelColor":{"condition":[{"test":"datum.value === 1.81","value":"#d0d0d0"},{"test":"datum.value > 0","value":"#e5574f"},{"test":"datum.value < 0","value":"#3fbf46"}],"value":"#cfcfcf"}}},
   "y2":{"datum":2.53}}},
 {"data":{"name":"days"},"mark":{"type":"text","color":"#8a8a8a","dx":3,"fontSize":7},
  "encoding":{"x":{"field":"t","type":"quantitative","scale":{"domain":[0,240],"nice":false,"zero":false},"axis":null},"y":{"datum":2.40,"type":"quantitative","title":null,"scale":{"domain":[-2.53,2.874],"nice":false,"zero":false}},"text":{"field":"lab"}}},
 {"data":{"values":[{}]},"mark":{"type":"text","color":"#d4d4d4","text":"深证成指"},
  "encoding":{"x":{"datum":0.93,"type":"quantitative","scale":{"domain":[0,240],"nice":false,"zero":false},"axis":null},"y":{"datum":2.712,"type":"quantitative","title":null,"scale":{"domain":[-2.53,2.874],"nice":false,"zero":false}}}},
 {"data":{"values":[{}]},"mark":{"type":"text","color":"#a0a0a0","text":"分时"},
  "encoding":{"x":{"datum":11.1,"type":"quantitative","scale":{"domain":[0,240],"nice":false,"zero":false},"axis":null},"y":{"datum":2.712,"type":"quantitative","title":null,"scale":{"domain":[-2.53,2.874],"nice":false,"zero":false}}}},
 {"data":{"values":[{}]},"mark":{"type":"text","color":"#e3d65a","text":"领先指标:"},
  "encoding":{"x":{"datum":17.0,"type":"quantitative","scale":{"domain":[0,240],"nice":false,"zero":false},"axis":null},"y":{"datum":2.712,"type":"quantitative","title":null,"scale":{"domain":[-2.53,2.874],"nice":false,"zero":false}}}},
 {"data":{"values":[{}]},"mark":{"type":"text","color":"#3fc446","text":"10049.35"},
  "encoding":{"x":{"datum":26.5,"type":"quantitative","scale":{"domain":[0,240],"nice":false,"zero":false},"axis":null},"y":{"datum":2.712,"type":"quantitative","title":null,"scale":{"domain":[-2.53,2.874],"nice":false,"zero":false}}}},
 {"data":{"values":[{}]},"mark":{"type":"text","color":"#a0a0a0","text":"成交额(元)"},
  "encoding":{"x":{"datum":37.0,"type":"quantitative","scale":{"domain":[0,240],"nice":false,"zero":false},"axis":null},"y":{"datum":2.712,"type":"quantitative","title":null,"scale":{"domain":[-2.53,2.874],"nice":false,"zero":false}}}},
 {"data":{"values":[{}]},"mark":{"type":"rule","color":"#e0e0e0","strokeWidth":2},
  "encoding":{"x":{"datum":216,"type":"quantitative","scale":{"domain":[0,240],"nice":false,"zero":false},"axis":null},"y":{"datum":2.6,"type":"quantitative","title":null,"scale":{"domain":[-2.53,2.874],"nice":false,"zero":false}},"y2":{"datum":2.5}}},
 {"data":{"name":"bs"},"mark":{"type":"rule","color":"#e8625c","strokeWidth":1.2},
  "encoding":{"x":{"field":"t","type":"quantitative","scale":{"domain":[0,240],"nice":false,"zero":false},"axis":null},"y":{"field":"u","type":"quantitative","title":null,"scale":{"domain":[-2.53,2.874],"nice":false,"zero":false}},"y2":{"datum":0}}},
 {"data":{"name":"bs"},"mark":{"type":"rule","color":"#30d6e4","strokeWidth":1.2},
  "encoding":{"x":{"field":"t","type":"quantitative","scale":{"domain":[0,240],"nice":false,"zero":false},"axis":null},"y":{"field":"d","type":"quantitative","title":null,"scale":{"domain":[-2.53,2.874],"nice":false,"zero":false}},"y2":{"datum":0}}},
 {"data":{"name":"p"},"mark":{"type":"line","color":"#dcdcdc","strokeWidth":1},
  "encoding":{"x":{"field":"t","type":"quantitative","scale":{"domain":[0,240],"nice":false,"zero":false},"axis":null},"y":{"field":"w","type":"quantitative","title":null,"scale":{"domain":[-2.53,2.874],"nice":false,"zero":false}}}},
 {"data":{"name":"p"},"mark":{"type":"line","color":"#d9cd45","strokeWidth":1},
  "encoding":{"x":{"field":"t","type":"quantitative","scale":{"domain":[0,240],"nice":false,"zero":false},"axis":null},"y":{"field":"yl","type":"quantitative","title":null,"scale":{"domain":[-2.53,2.874],"nice":false,"zero":false}},"detail":{"field":"s","type":"nominal"}}}
]},
{"width":776,"height":63,"layer":[
 {"data":{"values":[{}]},"mark":{"type":"rect","color":"#060606"},
  "encoding":{"x":{"datum":-0.5,"type":"quantitative","title":null,"scale":{"domain":[-0.5,399.5],"nice":false,"zero":false},
    "axis":{"orient":"bottom","title":null,"tickCount":100,"labels":false,"grid":true,"gridColor":"#262626","values":[-0.5,19.5,39.5,59.5,79.5,99.5,119.5,139.5,159.5,179.5,199.5,219.5,239.5,259.5,279.5,299.5,319.5,339.5,359.5,379.5,399.5]}},
   "x2":{"datum":399.5},
   "y":{"datum":300,"type":"quantitative","title":null,"scale":{"domain":[0,337],"nice":false,"zero":false},
    "axis":{"orient":"right","title":null,"tickCount":100,"grid":false,"labelOverlap":false,"values":[98,196,294],"labelPadding":1,"labelColor":"#b0b0b0","labelExpr":"datum.value === 98 ? '98.0亿' : datum.value + '亿'"}},
   "y2":{"datum":337}}},
 {"data":{"name":"vol"},"mark":{"type":"rule","strokeWidth":2},
  "encoding":{"x":{"field":"m","type":"quantitative","title":null,"scale":{"domain":[-0.5,399.5],"nice":false,"zero":false}},
   "y":{"field":"v","type":"quantitative","title":null,"scale":{"domain":[0,337],"nice":false,"zero":false}},"y2":{"datum":0},
   "color":{"condition":{"test":"datum.r === 1","value":"#d24c45"},"value":"#41b84d"}}}
]},
{"width":776,"height":70,"layer":[
 {"data":{"name":"g"},"mark":{"type":"rule","color":"#262626"},
  "encoding":{"x":{"field":"t","type":"quantitative","title":null,"scale":{"domain":[0,240],"nice":false,"zero":false},
    "axis":{"orient":"bottom","title":null,"tickCount":100,"grid":false,"values":[0,24,48,72,96,120,144,168,192,216,228,234,240],"labelOverlap":false,"labelFlush":false,"labelBound":false,"labelPadding":3,"labelColor":"#a0a0a0","labelAlign":{"condition":{"test":"datum.value >= 228","value":"center"},"value":"left"},"labelOffset":{"condition":[{"test":"datum.value === 0","value":6},{"test":"datum.value === 228","value":-4.2},{"test":"datum.value === 234","value":-4.1},{"test":"datum.value === 240","value":-3}],"value":1},"labelExpr":"datum.value === 0 ? '9:30' : datum.value === 228 ? '11:30' : datum.value === 234 ? '14:00' : datum.value === 240 ? '15:00' : ['06/03','06/04','06/05','06/06','06/09','06/10','06/11','06/12','06/13'][datum.value/24 - 1]"}},
   "y":{"datum":-2,"type":"quantitative","title":null,"scale":{"domain":[-2.089,2.705],"nice":false,"zero":false},
    "axis":{"orient":"right","title":null,"tickCount":100,"labels":false,"grid":true,"gridColor":"#262626","values":[-2,-1,0,1,2]}},
   "y2":{"datum":2}}},
 {"data":{"values":[{}]},"mark":{"type":"text","color":"#8a8a8a","text":"?"},
  "encoding":{"x":{"datum":1.2,"type":"quantitative","title":null,"scale":{"domain":[0,240],"nice":false,"zero":false}},"y":{"datum":2.33,"type":"quantitative","title":null,"scale":{"domain":[-2.089,2.705],"nice":false,"zero":false}}}},
 {"data":{"values":[{}]},"mark":{"type":"text","color":"#9a9a9a","text":"MACD (12,26,9)"},
  "encoding":{"x":{"datum":3.7,"type":"quantitative","title":null,"scale":{"domain":[0,240],"nice":false,"zero":false}},"y":{"datum":2.33,"type":"quantitative","title":null,"scale":{"domain":[-2.089,2.705],"nice":false,"zero":false}}}},
 {"data":{"values":[{}]},"mark":{"type":"text","color":"#e0e0e0","text":"DIF:-0.322↓"},
  "encoding":{"x":{"datum":21.3,"type":"quantitative","title":null,"scale":{"domain":[0,240],"nice":false,"zero":false}},"y":{"datum":2.33,"type":"quantitative","title":null,"scale":{"domain":[-2.089,2.705],"nice":false,"zero":false}}}},
 {"data":{"values":[{}]},"mark":{"type":"text","color":"#e0d468","text":"DEA:0.553↓"},
  "encoding":{"x":{"datum":34.0,"type":"quantitative","title":null,"scale":{"domain":[0,240],"nice":false,"zero":false}},"y":{"datum":2.33,"type":"quantitative","title":null,"scale":{"domain":[-2.089,2.705],"nice":false,"zero":false}}}},
 {"data":{"values":[{}]},"mark":{"type":"text","color":"#3fc446","text":"MACD:-1.751↓"},
  "encoding":{"x":{"datum":47.6,"type":"quantitative","title":null,"scale":{"domain":[0,240],"nice":false,"zero":false}},"y":{"datum":2.33,"type":"quantitative","title":null,"scale":{"domain":[-2.089,2.705],"nice":false,"zero":false}}}},
 {"data":{"values":[{}]},"mark":{"type":"text","color":"#9a9a9a","text":"改参数"},
  "encoding":{"x":{"datum":210.9,"type":"quantitative","title":null,"scale":{"domain":[0,240],"nice":false,"zero":false}},"y":{"datum":2.33,"type":"quantitative","title":null,"scale":{"domain":[-2.089,2.705],"nice":false,"zero":false}}}},
 {"data":{"values":[{}]},"mark":{"type":"text","color":"#9a9a9a","text":"加指标"},
  "encoding":{"x":{"datum":219.6,"type":"quantitative","title":null,"scale":{"domain":[0,240],"nice":false,"zero":false}},"y":{"datum":2.33,"type":"quantitative","title":null,"scale":{"domain":[-2.089,2.705],"nice":false,"zero":false}}}},
 {"data":{"values":[{}]},"mark":{"type":"text","color":"#9a9a9a","text":"换指标"},
  "encoding":{"x":{"datum":228.6,"type":"quantitative","title":null,"scale":{"domain":[0,240],"nice":false,"zero":false}},"y":{"datum":2.33,"type":"quantitative","title":null,"scale":{"domain":[-2.089,2.705],"nice":false,"zero":false}}}},
 {"data":{"values":[{}]},"mark":{"type":"text","color":"#9a9a9a","fontSize":8,"text":"×"},
  "encoding":{"x":{"datum":237.2,"type":"quantitative","title":null,"scale":{"domain":[0,240],"nice":false,"zero":false}},"y":{"datum":2.33,"type":"quantitative","title":null,"scale":{"domain":[-2.089,2.705],"nice":false,"zero":false}}}},
 {"data":{"name":"mh"},"mark":{"type":"rule","strokeWidth":1.8},
  "encoding":{"x":{"field":"t","type":"quantitative","title":null,"scale":{"domain":[0,240],"nice":false,"zero":false}},"y":{"field":"h","type":"quantitative","title":null,"scale":{"domain":[-2.089,2.705],"nice":false,"zero":false}},"y2":{"datum":0},
   "color":{"condition":{"test":"datum.h > 0","value":"#e8605a"},"value":"#2fd5e3"}}},
 {"data":{"name":"md"},"mark":{"type":"line","color":"#e0e0e0","strokeWidth":1},
  "encoding":{"x":{"field":"t","type":"quantitative","title":null,"scale":{"domain":[0,240],"nice":false,"zero":false}},"y":{"field":"a","type":"quantitative","title":null,"scale":{"domain":[-2.089,2.705],"nice":false,"zero":false}}}},
 {"data":{"name":"md"},"mark":{"type":"line","color":"#d8cc50","strokeWidth":1},
  "encoding":{"x":{"field":"t","type":"quantitative","title":null,"scale":{"domain":[0,240],"nice":false,"zero":false}},"y":{"field":"b","type":"quantitative","title":null,"scale":{"domain":[-2.089,2.705],"nice":false,"zero":false}}}}
]}
]
}
